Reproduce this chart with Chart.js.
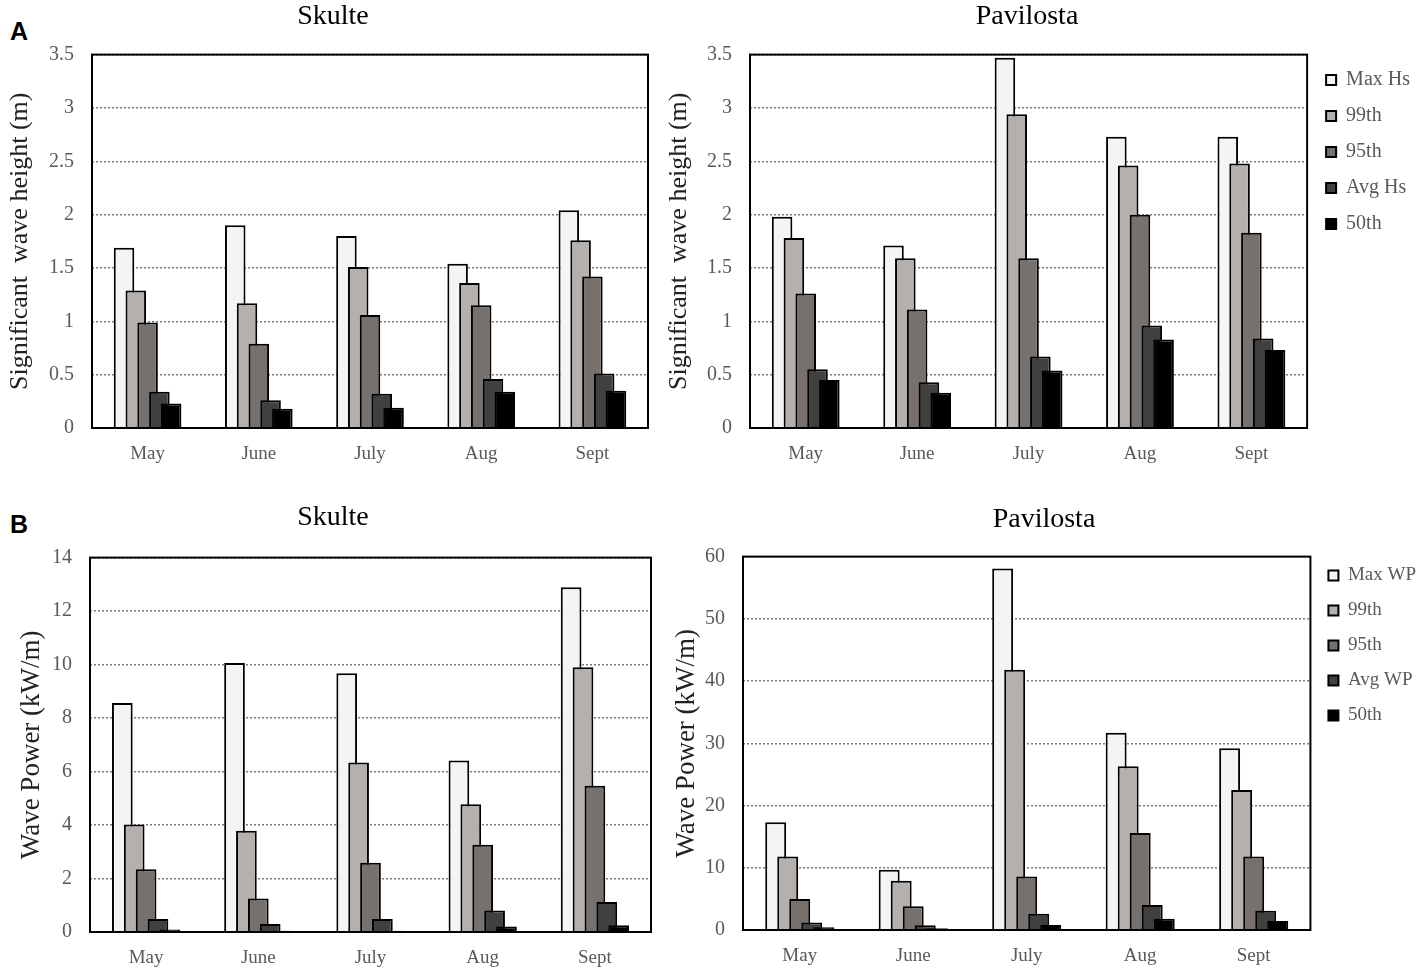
<!DOCTYPE html>
<html>
<head>
<meta charset="utf-8">
<script src="https://cdn.jsdelivr.net/npm/chart.js@4.4.1/dist/chart.umd.min.js"></script>
<style>
  body { margin: 0; background: #fff; width: 1417px; height: 972px; overflow: hidden; position: relative; }
  canvas { position: absolute; }
  .tag { position: absolute; font: bold 25px "Liberation Sans", Arial, sans-serif; color: #000; }
</style>
</head>
<body>
<div class="tag" style="left:10px;top:17px">A</div>
<div class="tag" style="left:10px;top:510px">B</div>
<canvas id="hsSkulte" width="660" height="480" style="left:0;top:0"></canvas>
<canvas id="hsPavilosta" width="800" height="480" style="left:660px;top:0"></canvas>
<canvas id="wpSkulte" width="660" height="492" style="left:0;top:480px"></canvas>
<canvas id="wpPavilosta" width="800" height="492" style="left:660px;top:480px"></canvas>
<script>
const months = ['May', 'June', 'July', 'Aug', 'Sept'];
const hsNames = ['Max Hs', '99th', '95th', 'Avg Hs', '50th'];
const wpNames = ['Max WP', '99th', '95th', 'Avg WP', '50th'];
const fills = ['#f4f4f4', '#b3b0ae', '#77716e', '#404040', '#000000'];

// significant wave height (m), Skulte
const skulteHsMax = [1.69, 1.90, 1.80, 1.54, 2.04];
const skulteHs99 = [1.29, 1.17, 1.51, 1.36, 1.76];
const skulteHs95 = [0.99, 0.79, 1.06, 1.15, 1.42];
const skulteHsAvg = [0.34, 0.26, 0.32, 0.46, 0.51];
const skulteHs50 = [0.23, 0.18, 0.19, 0.34, 0.35];

// significant wave height (m), Pavilosta
const pavilostaHsMax = [1.98, 1.71, 3.47, 2.73, 2.73];
const pavilostaHs99 = [1.78, 1.59, 2.94, 2.46, 2.48];
const pavilostaHs95 = [1.26, 1.11, 1.59, 2.00, 1.83];
const pavilostaHsAvg = [0.55, 0.43, 0.67, 0.96, 0.84];
const pavilostaHs50 = [0.45, 0.33, 0.54, 0.83, 0.73];

// wave power (kW/m), Skulte
const skulteWpMax = [8.56, 10.06, 9.68, 6.41, 12.89];
const skulteWp99 = [4.02, 3.79, 6.34, 4.78, 9.90];
const skulteWp95 = [2.35, 1.25, 2.59, 3.26, 5.47];
const skulteWpAvg = [0.49, 0.30, 0.49, 0.80, 1.12];
const skulteWp50 = [0.09, 0.05, 0.05, 0.21, 0.25];

// wave power (kW/m), Pavilosta
const pavilostaWpMax = [17.3, 9.7, 58.1, 31.7, 29.2];
const pavilostaWp99 = [11.8, 7.9, 41.8, 26.3, 22.5];
const pavilostaWp95 = [5.0, 3.8, 8.6, 15.6, 11.8];
const pavilostaWpAvg = [1.2, 0.75, 2.6, 4.0, 3.1];
const pavilostaWp50 = [0.43, 0.27, 0.8, 1.8, 1.45];

const serif = '"Liberation Serif", "Times New Roman", serif';
const tickGrey = '#595959';

// Excel-like overlap: later series sit on top of earlier ones, then the box frame
const excelBars = {
    id: 'excelBars',
    beforeDatasetsDraw(chart) {
        chart.getSortedVisibleDatasetMetas().forEach(m => m.controller.draw());
        const a = chart.chartArea;
        const ctx = chart.ctx;
        ctx.save();
        ctx.strokeStyle = '#000';
        ctx.lineWidth = 2;
        ctx.strokeRect(a.left, a.top, a.right - a.left, a.bottom - a.top);
        ctx.restore();
        return false;
    },
    afterLayout(chart) {
        const o = chart.options.plugins.excelBars;
        if (chart.legend && o.legendShift) {
            chart.legend.left += o.legendShift[0];
            chart.legend.right += o.legendShift[0];
            chart.legend.top += o.legendShift[1];
            chart.legend.bottom += o.legendShift[1];
        }
    }
};

function makeChart(id, title, names, series, yMax, step, yTitle, g) {
    new Chart(document.getElementById(id), {
        type: 'bar',
        data: {
            labels: months,
            datasets: series.map((s, i) => ({
                label: names[i],
                data: s,
                backgroundColor: fills[i],
                borderColor: '#000',
                borderWidth: 2,
                borderSkipped: 'bottom',
                categoryPercentage: 0.53,
                barPercentage: 1.74
            }))
        },
        plugins: [excelBars],
        options: {
            responsive: false,
            animation: false,
            layout: { padding: { left: g.left, right: g.right, top: 0, bottom: 0 } },
            plugins: {
                excelBars: { legendShift: g.legendShift },
                title: {
                    display: true,
                    text: title,
                    color: '#000',
                    font: { family: serif, size: 28, weight: 'normal' },
                    padding: { top: g.titleTop, bottom: g.titleBottom }
                },
                legend: {
                    display: g.legend,
                    position: 'right',
                    align: 'start',
                    labels: {
                        color: tickGrey,
                        font: { family: serif, size: g.legendFont || 20 },
                        boxWidth: 10,
                        boxHeight: 10,
                        padding: g.legendPad || 16
                    }
                },
                tooltip: { enabled: false }
            },
            scales: {
                x: {
                    grid: { display: false, drawTicks: false },
                    border: { display: false },
                    ticks: { color: tickGrey, font: { family: serif, size: 19 }, padding: 15 },
                    afterFit(scale) { scale.height = g.xHeight; }
                },
                y: {
                    min: 0,
                    max: yMax,
                    ticks: {
                        stepSize: step,
                        color: tickGrey,
                        font: { family: serif, size: 20 },
                        padding: 18,
                        callback: v => String(v)
                    },
                    grid: { color: '#7a7a7a', lineWidth: 1.5, drawTicks: false },
                    border: { display: false, dash: [2, 2] },
                    title: {
                        display: true,
                        text: yTitle,
                        color: '#222',
                        font: { family: serif, size: g.yTitleSize },
                        padding: { top: g.yTitlePad, bottom: 0 }
                    },
                    afterFit(scale) { scale.width = g.yWidth; }
                }
            }
        }
    });
}

makeChart('hsSkulte', 'Skulte', hsNames,
    [skulteHsMax, skulteHs99, skulteHs95, skulteHsAvg, skulteHs50],
    3.5, 0.5, 'Significant  wave height (m)',
    { left: 18, right: 12, titleTop: 0, titleBottom: 21, xHeight: 52, yWidth: 74,
      yTitleSize: 26, yTitlePad: -13, legend: false });

makeChart('hsPavilosta', 'Pavilosta', hsNames,
    [pavilostaHsMax, pavilostaHs99, pavilostaHs95, pavilostaHsAvg, pavilostaHs50],
    3.5, 0.5, 'Significant  wave height (m)',
    { left: -23, right: 43, titleTop: 0, titleBottom: 21, xHeight: 52, yWidth: 113,
      yTitleSize: 26, yTitlePad: 27, legend: true, legendFont: 20, legendPad: 16, legendShift: [3, 54] });

makeChart('wpSkulte', 'Skulte', wpNames,
    [skulteWpMax, skulteWp99, skulteWp95, skulteWpAvg, skulteWp50],
    14, 2, 'Wave Power (kW/m)',
    { left: 15, right: 9, titleTop: 21, titleBottom: 23, xHeight: 40, yWidth: 75,
      yTitleSize: 27, yTitlePad: 1, legend: false });

makeChart('wpPavilosta', 'Pavilosta', wpNames,
    [pavilostaWpMax, pavilostaWp99, pavilostaWp95, pavilostaWpAvg, pavilostaWp50],
    60, 10, 'Wave Power (kW/m)',
    { left: 4, right: 36, titleTop: 23, titleBottom: 20, xHeight: 42, yWidth: 79,
      yTitleSize: 27, yTitlePad: 7, legend: true, legendFont: 19, legendPad: 16, legendShift: [2, 70] });
</script>
</body>
</html>
